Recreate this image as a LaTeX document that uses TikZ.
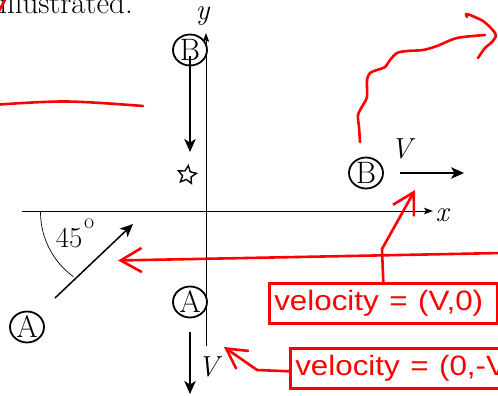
\documentclass[tikz,border=0pt]{standalone}
\usepackage{fontspec}
\newfontfamily\redsans{Liberation Sans}
\usetikzlibrary{arrows.meta,shapes.geometric}
\begin{document}
\begin{tikzpicture}[x=1pt,y=-1pt,
  every node/.style={font=\fontsize{29}{33}\selectfont, inner sep=0pt},
  axis/.style={line width=0.9, -{Stealth[length=9pt,width=6.5pt,inset=2pt]}},
  vel/.style={line width=1.5, -{Stealth[length=13pt,width=11.5pt,inset=3.5pt]}},
  circ/.style={draw, ellipse, line width=1.8, minimum width=34pt, minimum height=31pt, inner sep=0pt,
     font=\fontsize{31}{33}\selectfont},
  redline/.style={red, line width=2.6, line cap=round, line join=round},
  redarrow/.style={redline, -{Straight Barb[length=21pt,width=24pt]}},
  redbox/.style={draw=red, line width=2.6, text=red, font=\redsans\fontsize{28}{32}\selectfont,
     inner xsep=5pt, minimum height=40pt, anchor=north west, align=left}
]
\useasboundingbox (0,0) rectangle (498,396);

% top text (cut by the left and top edges, as in the reference)
\node[anchor=base east, font=\fontsize{31}{35}\selectfont] (txt) at (133,14) {illustrated.};

% axes
\coordinate (xs) at (22,211);
\coordinate (xe) at (433,211);
\coordinate (ys) at (206,346);
\coordinate (ye) at (206,33);
\draw[axis] (xs) -- (xe);
\draw[axis] (ys) -- (ye);
\node (xlab) at (443,215) {\textit{x}};
\node (ylab) at (203,16) {\textit{y}};

% circled letters
\node[circ] (B1) at (190,50) {B};
\node[circ] (A1) at (27,327) {A};
\node[circ] (A2) at (190,302) {A};
\node[circ] (B2) at (366,173) {B};

% star
\node[star, star points=5, star point ratio=2.1, draw, line width=1.4, minimum size=19pt, rotate=-8] (star) at (187,175) {};

% velocity arrows
\coordinate (b1e) at (190,152);
\draw[vel] ([yshift=-6pt]B1.center) -- (b1e);
\coordinate (a2s) at (190,332);
\coordinate (a2e) at (190,394);
\draw[vel] (a2s) -- (a2e);
\node (V1) at (210,367) {\textit{V}};
\coordinate (b2s) at (400,173);
\coordinate (b2e) at (464,173);
\draw[vel] (b2s) -- (b2e);
\node (V2) at (403,149) {\textit{V}};
\coordinate (a1s) at (55,298);
\coordinate (a1e) at (133,224);
\draw[vel] (a1s) -- (a1e);

% angle
\draw[line width=0.7] (40.5,212) arc[start angle=180, end angle=126, radius=80];
\node (ang) at (75,233) {45\kern1.5pt\raisebox{19pt}{\fontsize{22}{22}\selectfont o}};

% red annotations
\draw[redline] (-1,11) -- (5,0);
\draw[redline] plot[smooth, tension=0.6] coordinates {(0,104.5) (67,101.5) (143,106)};
\draw[redline] plot[smooth, tension=0.5] coordinates {(360,142) (359,127) (358,115) (363,105) (367,97) (367,80) (370,73) (377,70) (385,67) (390,60) (397,53) (407,51) (423,50) (437,46) (457,38) (485,35)};
\draw[redline] plot[smooth, tension=0.5] coordinates {(467,17) (466,14) (470,15) (477,18) (483,21) (490,27) (495,33) (496,36) (492,42) (485,48) (480,55) (478,58)};

\coordinate (hs) at (502,253);
\coordinate (ht) at (118,260.5);
\draw[redarrow] (hs) -- (ht);

\node[redbox, text width=218pt] (box1) at (268,282) {\scalebox{1.12}[1]{velocity = (V,0)}};
\node[redbox, text width=240pt] (box2) at (289,347) {\scalebox{1.12}[1]{velocity = (0,-V)}};

\coordinate (bend1) at (382,249);
\coordinate (tipB) at (415,190);
\draw[redarrow] (box1.north) -- (bend1) -- (tipB);

\coordinate (bend2) at (257,370);
\coordinate (tipA) at (224,347);
\draw[redline, -{Straight Barb[length=20pt,width=22pt]}] ([yshift=-3pt]box2.west) -- (bend2) -- (tipA);
\end{tikzpicture}
\end{document}
